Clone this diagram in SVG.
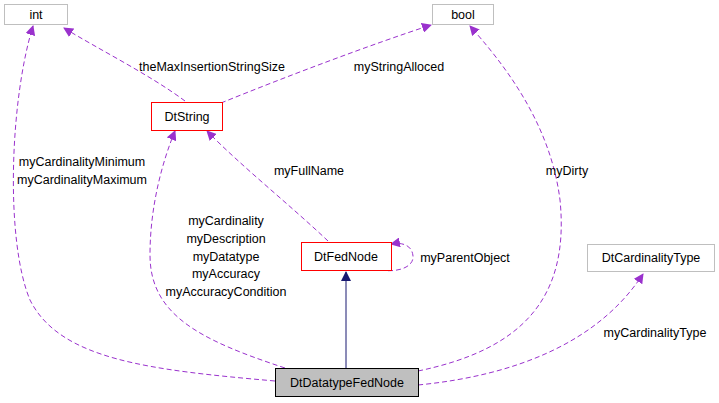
<svg xmlns="http://www.w3.org/2000/svg" width="719" height="403" viewBox="0 0 719 403">
<style>
text{font-family:"Liberation Sans",Arial,sans-serif;font-size:12.5px;fill:#000}
.n{fill:#fff;stroke:#bfbfbf;stroke-width:1}
.r{fill:#fff;stroke:#ff0000;stroke-width:1}
.d{fill:none;stroke:#9a32cd;stroke-width:1;stroke-dasharray:5,3}
</style>
<defs>
<marker id="p" viewBox="0 0 10 10" refX="9" refY="5" markerWidth="10" markerHeight="10" markerUnits="userSpaceOnUse" orient="auto"><path d="M0,0L10,5L0,10z" fill="#9a32cd"/></marker>
<marker id="b" viewBox="0 0 10 10" refX="9" refY="5" markerWidth="10" markerHeight="10" markerUnits="userSpaceOnUse" orient="auto"><path d="M0,0L10,5L0,10z" fill="#191970"/></marker>
</defs>
<rect width="719" height="403" fill="#fff"/>
<g id="edges">
<path class="d" marker-end="url(#p)" d="M185,101 C150,75 100,50 64,28"/>
<path class="d" marker-end="url(#p)" d="M221,103 C290,75 370,45 431,25"/>
<path class="d" marker-end="url(#p)" d="M328,241 C290,205 240,165 207,131"/>
<path class="d" marker-end="url(#p)" d="M380,270 C400,273 414,266 413,256 C412,245 402,242 391,244"/>
<path d="M346,368 L346,272" fill="none" stroke="#191970" marker-end="url(#b)"/>
<path class="d" marker-end="url(#p)" d="M275,381 C150,370 60,360 30,300 C5,240 10,100 33,26"/>
<path class="d" marker-end="url(#p)" d="M285,368 C200,340 150,315 150,255 C150,205 163,160 175,131"/>
<path class="d" marker-end="url(#p)" d="M418,371 C520,350 570,300 560,200 C550,120 500,60 470,26"/>
<path class="d" marker-end="url(#p)" d="M418,385 C520,375 600,340 643,274"/>
</g>
<g id="labels">
<text x="212" y="71" text-anchor="middle">theMaxInsertionStringSize</text>
<text x="399" y="71" text-anchor="middle">myStringAlloced</text>
<text x="309" y="175" text-anchor="middle">myFullName</text>
<text x="465" y="262" text-anchor="middle">myParentObject</text>
<text x="82" y="166" text-anchor="middle">myCardinalityMinimum</text>
<text x="82" y="184" text-anchor="middle">myCardinalityMaximum</text>
<text x="226" y="225" text-anchor="middle">myCardinality</text>
<text x="226" y="243" text-anchor="middle">myDescription</text>
<text x="226" y="261" text-anchor="middle">myDatatype</text>
<text x="226" y="278" text-anchor="middle">myAccuracy</text>
<text x="226" y="296" text-anchor="middle">myAccuracyCondition</text>
<text x="567" y="175" text-anchor="middle">myDirty</text>
<text x="655" y="337" text-anchor="middle">myCardinalityType</text>
</g>
<g id="int"><rect class="n" x="4.5" y="4.5" width="63" height="20"/><text x="36" y="19" text-anchor="middle">int</text></g>
<g id="bool"><rect class="n" x="432.5" y="4.5" width="61" height="20"/><text x="463" y="19" text-anchor="middle">bool</text></g>
<g id="DtString"><rect class="r" x="151.5" y="102.5" width="71" height="28"/><text x="187" y="121" text-anchor="middle">DtString</text></g>
<g id="DtFedNode"><rect class="r" x="301.5" y="242.5" width="90" height="28"/><text x="346" y="261" text-anchor="middle">DtFedNode</text></g>
<g id="DtCardinalityType"><rect class="n" x="587.5" y="244.5" width="127" height="27"/><text x="651" y="262" text-anchor="middle">DtCardinalityType</text></g>
<g id="DtDatatypeFedNode"><rect x="275.5" y="368.5" width="143" height="28" fill="#bfbfbf" stroke="#000"/><text x="347" y="387" text-anchor="middle">DtDatatypeFedNode</text></g>
</svg>
